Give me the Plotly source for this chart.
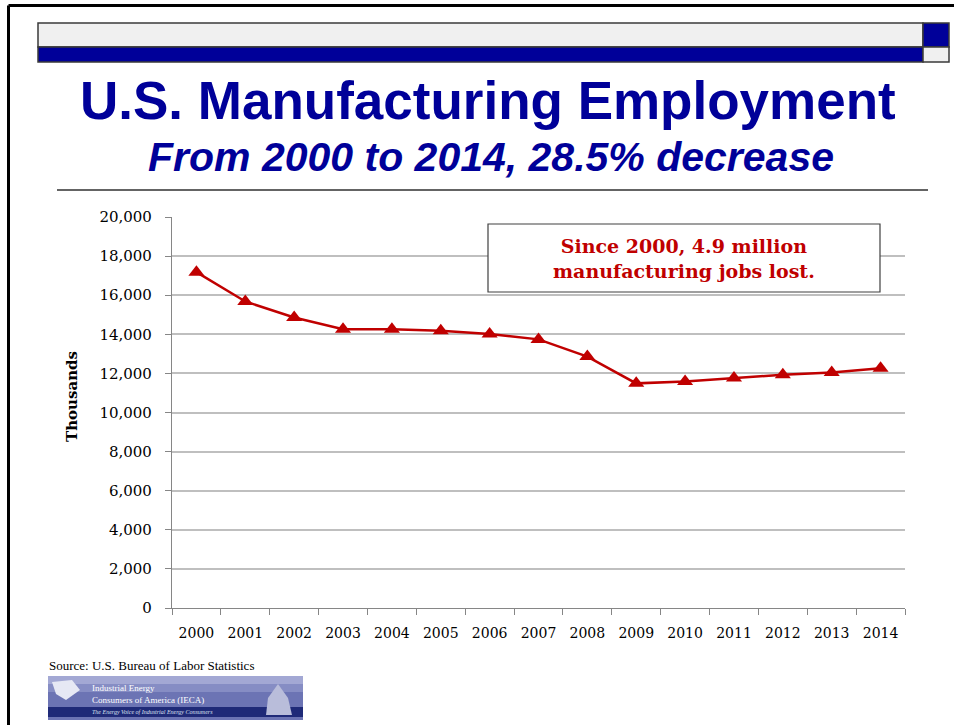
import plotly.graph_objects as go

years = ["2000", "2001", "2002", "2003", "2004", "2005", "2006", "2007",
         "2008", "2009", "2010", "2011", "2012", "2013", "2014"]
employment = [17180, 15680, 14860, 14260, 14260, 14180, 14010, 13740,
              12860, 11490, 11580, 11760, 11930, 12040, 12260]
y_ticks = [0, 2000, 4000, 6000, 8000, 10000, 12000, 14000, 16000, 18000, 20000]
y_tick_text = ["0", "2,000", "4,000", "6,000", "8,000", "10,000", "12,000",
               "14,000", "16,000", "18,000", "20,000"]

W, H = 954, 725
L, R, T, B = 172, 905, 217, 608


def px(x):
    return (x - L) / (R - L)


def py(y):
    return (B - y) / (B - T)


RED = "#C00000"
BLUE = "#000099"
SERIF = "DejaVu Serif"

fig = go.Figure()
fig.add_trace(go.Scatter(
    x=years, y=employment, mode="lines+markers",
    line=dict(color=RED, width=2.5),
    marker=dict(symbol="triangle-up", size=14, color=RED),
    showlegend=False, hoverinfo="x+y",
))

shapes = []
# slide border
shapes.append(dict(type="line", xref="paper", yref="paper", x0=px(8.5), x1=px(960), y0=py(5.5), y1=py(5.5),
                   line=dict(color="black", width=3)))
shapes.append(dict(type="line", xref="paper", yref="paper", x0=px(8.5), x1=px(8.5), y0=py(5.5), y1=py(730),
                   line=dict(color="black", width=3)))
# header bars
shapes.append(dict(type="rect", xref="paper", yref="paper", x0=px(38), x1=px(923), y0=py(23), y1=py(47),
                   fillcolor="#F0F0F0", line=dict(color="#3A3A3A", width=1.5)))
shapes.append(dict(type="rect", xref="paper", yref="paper", x0=px(38), x1=px(923), y0=py(47), y1=py(62),
                   fillcolor=BLUE, line=dict(color="#3A3A3A", width=1.5)))
shapes.append(dict(type="rect", xref="paper", yref="paper", x0=px(923), x1=px(949), y0=py(23), y1=py(47),
                   fillcolor=BLUE, line=dict(color="#3A3A3A", width=1.5)))
shapes.append(dict(type="rect", xref="paper", yref="paper", x0=px(923), x1=px(949), y0=py(47), y1=py(62),
                   fillcolor="#F0F0F0", line=dict(color="#3A3A3A", width=1.5)))
# separator line
shapes.append(dict(type="line", xref="paper", yref="paper", x0=px(57), x1=px(928), y0=py(190), y1=py(190),
                   line=dict(color="#303030", width=1.5)))
# annotation box
shapes.append(dict(type="rect", xref="paper", yref="paper", x0=px(488), x1=px(880), y0=py(224), y1=py(292),
                   fillcolor="white", line=dict(color="#404040", width=1.2), layer="above"))
# logo
shapes.append(dict(type="rect", xref="paper", yref="paper", x0=px(48), x1=px(303), y0=py(676), y1=py(720),
                   fillcolor="#6C74B4", line=dict(width=0)))
shapes.append(dict(type="rect", xref="paper", yref="paper", x0=px(48), x1=px(303), y0=py(676), y1=py(684),
                   fillcolor="#A3A8D4", line=dict(width=0)))
shapes.append(dict(type="rect", xref="paper", yref="paper", x0=px(48), x1=px(303), y0=py(684), y1=py(692),
                   fillcolor="#868DC4", line=dict(width=0)))
shapes.append(dict(type="rect", xref="paper", yref="paper", x0=px(48), x1=px(303), y0=py(707), y1=py(717),
                   fillcolor="#1F2A78", line=dict(width=0)))
shapes.append(dict(type="path", xref="paper", yref="paper",
                   path=("M {},{} L {},{} L {},{} L {},{} L {},{} Z".format(
                       px(52), py(682), px(72), py(680), px(80), py(690), px(66), py(700), px(56), py(694))),
                   fillcolor="#E6E8F4", line=dict(width=0)))
shapes.append(dict(type="path", xref="paper", yref="paper",
                   path=("M {},{} L {},{} L {},{} L {},{} L {},{} Z".format(
                       px(266), py(715), px(268), py(698), px(278), py(684), px(288), py(698), px(292), py(715))),
                   fillcolor="#B9BDDA", line=dict(width=0)))

annotations = [
    dict(text="<b>U.S. Manufacturing Employment</b>", xref="paper", yref="paper", x=px(488), y=py(100),
         xanchor="center", yanchor="middle", showarrow=False,
         font=dict(family="Liberation Sans", size=53, color=BLUE)),
    dict(text="<b><i>From 2000 to 2014, 28.5% decrease</i></b>", xref="paper", yref="paper", x=px(491), y=py(157),
         xanchor="center", yanchor="middle", showarrow=False,
         font=dict(family="Liberation Sans", size=41, color=BLUE)),
    dict(text="<b>Since 2000, 4.9 million<br>manufacturing jobs lost.</b>", xref="paper", yref="paper",
         x=px(684), y=py(258), xanchor="center", yanchor="middle", showarrow=False,
         font=dict(family=SERIF, size=19, color=RED)),
    dict(text="<b>Thousands</b>", xref="paper", yref="paper", x=px(72), y=py(397), textangle=-90,
         xanchor="center", yanchor="middle", showarrow=False,
         font=dict(family=SERIF, size=15, color="black")),
    dict(text="Source: U.S. Bureau of Labor Statistics", xref="paper", yref="paper", x=px(47), y=py(665),
         xanchor="left", yanchor="middle", showarrow=False,
         font=dict(family="Liberation Serif", size=13, color="black")),
    dict(text="Industrial Energy<br>Consumers of America (IECA)", xref="paper", yref="paper", x=px(90), y=py(694),
         xanchor="left", yanchor="middle", showarrow=False, align="left",
         font=dict(family="Liberation Serif", size=9, color="white")),
    dict(text="<i>The Energy Voice of Industrial Energy Consumers</i>", xref="paper", yref="paper",
         x=px(90), y=py(712), xanchor="left", yanchor="middle", showarrow=False,
         font=dict(family="Liberation Serif", size=6, color="#DDE0F0")),
]

fig.update_layout(
    width=W, height=H,
    margin=dict(l=L, r=W - R, t=T, b=H - B, pad=0),
    paper_bgcolor="white", plot_bgcolor="white",
    shapes=shapes, annotations=annotations,
    xaxis=dict(type="category", tickson="boundaries", ticks="outside", ticklen=6, tickcolor="#868686",
               showline=True, linecolor="#868686", linewidth=1.2, showgrid=False, ticklabelstandoff=12,
               tickfont=dict(family=SERIF, size=14, color="black"), range=[-0.5, 14.5]),
    yaxis=dict(range=[0, 20000], tickvals=y_ticks, ticktext=y_tick_text, ticks="outside", ticklen=6,
               tickcolor="#868686", showline=True, linecolor="#868686", linewidth=1.2, ticklabelstandoff=10,
               showgrid=True, gridcolor="#BFBFBF", gridwidth=2, zeroline=False,
               tickfont=dict(family=SERIF, size=15, color="black")),
    hovermode="closest",
)

fig.write_html("out.html")
